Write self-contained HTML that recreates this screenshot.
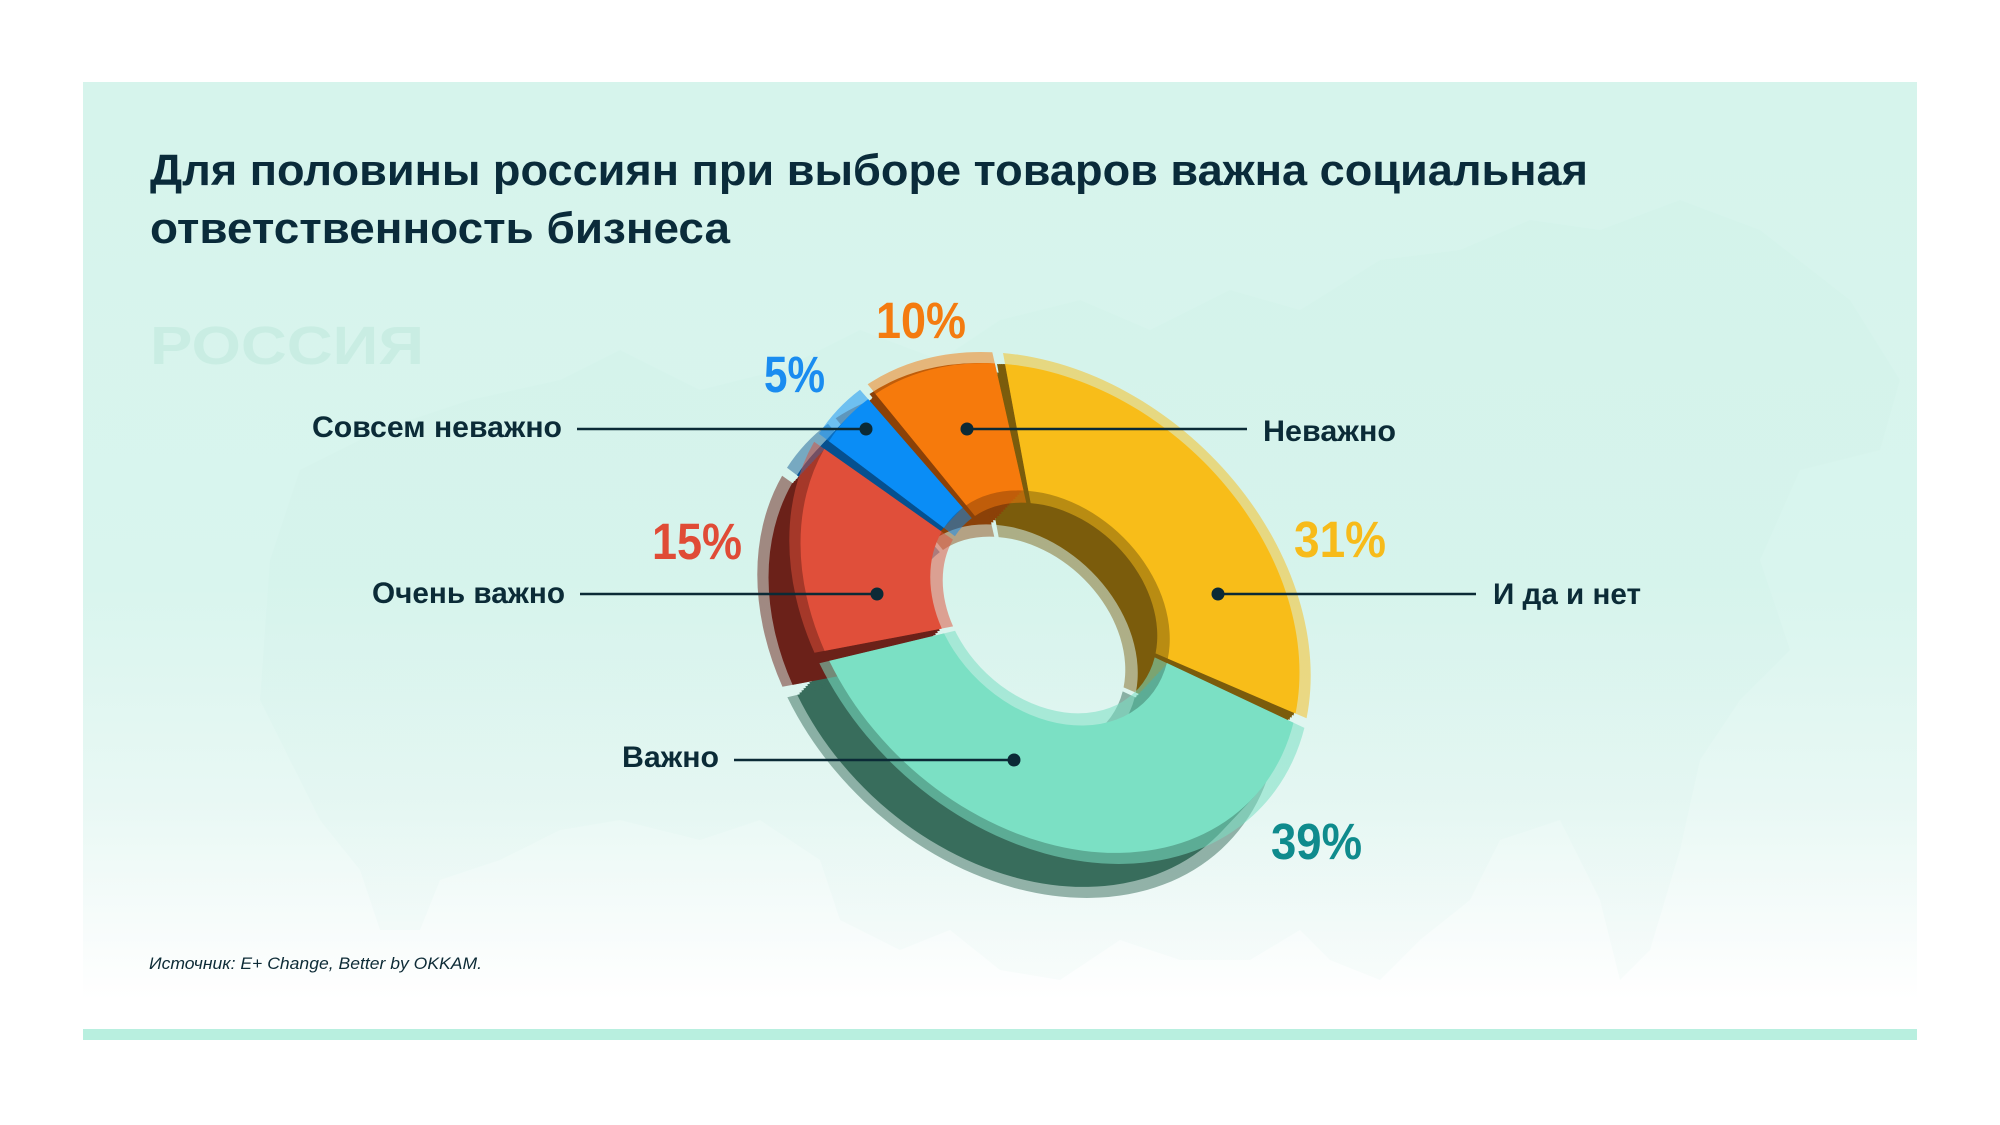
<!DOCTYPE html>
<html>
<head>
<meta charset="utf-8">
<style>
html,body{margin:0;padding:0;background:#ffffff;}
svg{display:block}
</style>
</head>
<body>
<svg width="2000" height="1125" viewBox="0 0 2000 1125" xmlns="http://www.w3.org/2000/svg" xmlns:xlink="http://www.w3.org/1999/xlink">
<defs>
  <linearGradient id="bg" gradientUnits="userSpaceOnUse" x1="0" y1="83" x2="0" y2="1000">
    <stop offset="0" stop-color="#d6f4ec"/>
    <stop offset="0.55" stop-color="#d9f5ee"/>
    <stop offset="0.78" stop-color="#e8f8f4"/>
    <stop offset="0.92" stop-color="#f7fcfb"/>
    <stop offset="1" stop-color="#ffffff"/>
  </linearGradient>
  <linearGradient id="mapg" gradientUnits="userSpaceOnUse" x1="0" y1="200" x2="0" y2="990">
    <stop offset="0" stop-color="#c9ede3"/>
    <stop offset="0.6" stop-color="#cdeee6"/>
    <stop offset="1" stop-color="#e2f4f0"/>
  </linearGradient>
  <path id="o" transform="translate(1050,608) rotate(43) scale(2.78,2.12)" d="M-98.42,-17.708 A100,100 0 0 1 -74.548,-66.653 L-35.783,-31.993 A48,48 0 0 0 -47.242,-8.5 Z"/>
  <path id="oR" transform="translate(1050,608) rotate(43) scale(2.78,2.12)" d="M-102.849,-18.505 A104.5,104.5 0 0 1 -77.903,-69.652 L-32.056,-28.661 A43,43 0 0 0 -42.321,-7.614 Z"/>
  <path id="y" transform="translate(1050,608) rotate(43) scale(2.78,2.12)" d="M-71.691,-69.717 A100,100 0 0 1 90.483,-42.578 L43.432,-20.437 A48,48 0 0 0 -34.412,-33.464 Z"/>
  <path id="yR" transform="translate(1050,608) rotate(43) scale(2.78,2.12)" d="M-74.917,-72.854 A104.5,104.5 0 0 1 94.555,-44.494 L38.908,-18.309 A43,43 0 0 0 -30.827,-29.978 Z"/>
  <path id="g" transform="translate(1050,608) rotate(43) scale(2.78,2.12)" d="M92.186,-38.752 A100,100 0 0 1 -45.088,89.259 L-21.642,42.844 A48,48 0 0 0 44.249,-18.601 Z"/>
  <path id="gR" transform="translate(1050,608) rotate(43) scale(2.78,2.12)" d="M96.334,-40.496 A104.5,104.5 0 0 1 -47.117,93.276 L-19.388,38.381 A43,43 0 0 0 39.64,-16.663 Z"/>
  <path id="r" transform="translate(1050,608) rotate(43) scale(2.78,2.12)" d="M-48.786,87.292 A100,100 0 0 1 -98.42,17.708 L-47.242,8.5 A48,48 0 0 0 -23.417,41.9 Z"/>
  <path id="rR" transform="translate(1050,608) rotate(43) scale(2.78,2.12)" d="M-50.981,91.22 A104.5,104.5 0 0 1 -102.849,18.505 L-42.321,7.614 A43,43 0 0 0 -20.978,37.536 Z"/>
  <path id="b" transform="translate(1050,608) rotate(43) scale(2.78,2.12)" d="M-99.075,13.572 A100,100 0 0 1 -99.075,-13.572 L-47.556,-6.515 A48,48 0 0 0 -47.556,6.515 Z"/>
  <path id="bR" transform="translate(1050,608) rotate(43) scale(2.78,2.12)" d="M-103.533,14.183 A104.5,104.5 0 0 1 -103.533,-14.183 L-42.602,-5.836 A43,43 0 0 0 -42.602,5.836 Z"/>
</defs>

<!-- background -->
<rect x="0" y="0" width="2000" height="1125" fill="#ffffff"/>
<rect x="83" y="82" width="1834" height="918" fill="url(#bg)"/>
<path d="M 270 560 L 300 470 L 380 430 L 470 400 L 560 380 L 620 350 L 700 390 L 780 370 L 860 330 L 940 360 L 1000 320 L 1080 300 L 1150 330 L 1230 290 L 1300 310 L 1380 260 L 1460 250 L 1530 220 L 1600 230 L 1680 200 L 1760 230 L 1850 300 L 1900 380 L 1880 450 L 1800 470 L 1760 560 L 1790 650 L 1740 700 L 1700 760 L 1680 850 L 1650 950 L 1620 980 L 1600 900 L 1560 820 L 1500 840 L 1470 900 L 1420 940 L 1380 980 L 1330 960 L 1300 930 L 1250 960 L 1180 960 L 1120 940 L 1060 980 L 1000 970 L 950 930 L 900 950 L 840 920 L 820 860 L 760 820 L 700 840 L 620 820 L 560 830 L 500 860 L 440 880 L 420 930 L 380 930 L 360 870 L 320 820 L 290 760 L 260 700 Z" fill="url(#mapg)" opacity="0.2"/>
<rect x="83" y="1029" width="1834" height="11" fill="#b8efdf"/>

<!-- watermark -->
<text x="150" y="364" font-family="Liberation Sans, sans-serif" font-weight="bold" font-size="54" fill="#c9ede3" textLength="274" lengthAdjust="spacingAndGlyphs">РОССИЯ</text>

<!-- title -->
<text x="150" y="185" font-family="Liberation Sans, sans-serif" font-weight="bold" font-size="44" fill="#0a2b3a" textLength="1438" lengthAdjust="spacingAndGlyphs">Для половины россиян при выборе товаров важна социальная</text>
<text x="150" y="243" font-family="Liberation Sans, sans-serif" font-weight="bold" font-size="44" fill="#0a2b3a" textLength="580" lengthAdjust="spacingAndGlyphs">ответственность бизнеса</text>

<!-- DONUT -->
<!-- wall rims (translucent) -->
<use href="#yR" x="-32" y="34" fill="#7b5c0c" opacity="0.45"/>
<use href="#oR" x="-32" y="34" fill="#8b4108" opacity="0.45"/>
<use href="#bR" x="-32" y="34" fill="#06508f" opacity="0.45"/>
<use href="#gR" x="-32" y="34" fill="#386d5c" opacity="0.5"/>
<use href="#rR" x="-32" y="34" fill="#6b2119" opacity="0.5"/>

<!-- wall sweeps -->
<g fill="#7b5c0c">
<use href="#y" x="-2" y="0"/><use href="#y" x="-4" y="0"/><use href="#y" x="-6" y="0"/><use href="#y" x="-8" y="0"/>
<use href="#y" x="-2" y="2.125"/><use href="#y" x="-4" y="4.25"/><use href="#y" x="-6" y="6.375"/><use href="#y" x="-8" y="8.5"/><use href="#y" x="-10" y="10.625"/><use href="#y" x="-12" y="12.75"/><use href="#y" x="-14" y="14.875"/><use href="#y" x="-16" y="17"/><use href="#y" x="-18" y="19.125"/><use href="#y" x="-20" y="21.25"/><use href="#y" x="-22" y="23.375"/><use href="#y" x="-24" y="25.5"/><use href="#y" x="-26" y="27.625"/><use href="#y" x="-28" y="29.75"/><use href="#y" x="-30" y="31.875"/><use href="#y" x="-32" y="34"/>
</g>
<g fill="#8b4108">
<use href="#o" x="-2" y="0"/><use href="#o" x="-4" y="0"/><use href="#o" x="-6" y="0"/>
<use href="#o" x="-2" y="2.125"/><use href="#o" x="-4" y="4.25"/><use href="#o" x="-6" y="6.375"/><use href="#o" x="-8" y="8.5"/><use href="#o" x="-10" y="10.625"/><use href="#o" x="-12" y="12.75"/><use href="#o" x="-14" y="14.875"/><use href="#o" x="-16" y="17"/><use href="#o" x="-18" y="19.125"/><use href="#o" x="-20" y="21.25"/><use href="#o" x="-22" y="23.375"/><use href="#o" x="-24" y="25.5"/><use href="#o" x="-26" y="27.625"/><use href="#o" x="-28" y="29.75"/><use href="#o" x="-30" y="31.875"/><use href="#o" x="-32" y="34"/>
</g>
<g fill="#06508f">
<use href="#b" x="-2" y="2.125"/><use href="#b" x="-4" y="4.25"/><use href="#b" x="-6" y="6.375"/><use href="#b" x="-8" y="8.5"/><use href="#b" x="-10" y="10.625"/><use href="#b" x="-12" y="12.75"/><use href="#b" x="-14" y="14.875"/><use href="#b" x="-16" y="17"/><use href="#b" x="-18" y="19.125"/><use href="#b" x="-20" y="21.25"/><use href="#b" x="-22" y="23.375"/><use href="#b" x="-24" y="25.5"/><use href="#b" x="-26" y="27.625"/><use href="#b" x="-28" y="29.75"/><use href="#b" x="-30" y="31.875"/><use href="#b" x="-32" y="34"/>
</g>
<g fill="#386d5c">
<use href="#g" x="-2" y="2.125"/><use href="#g" x="-4" y="4.25"/><use href="#g" x="-6" y="6.375"/><use href="#g" x="-8" y="8.5"/><use href="#g" x="-10" y="10.625"/><use href="#g" x="-12" y="12.75"/><use href="#g" x="-14" y="14.875"/><use href="#g" x="-16" y="17"/><use href="#g" x="-18" y="19.125"/><use href="#g" x="-20" y="21.25"/><use href="#g" x="-22" y="23.375"/><use href="#g" x="-24" y="25.5"/><use href="#g" x="-26" y="27.625"/><use href="#g" x="-28" y="29.75"/><use href="#g" x="-30" y="31.875"/><use href="#g" x="-32" y="34"/>
</g>
<g fill="#6b2119">
<use href="#r" x="-2" y="2.125"/><use href="#r" x="-4" y="4.25"/><use href="#r" x="-6" y="6.375"/><use href="#r" x="-8" y="8.5"/><use href="#r" x="-10" y="10.625"/><use href="#r" x="-12" y="12.75"/><use href="#r" x="-14" y="14.875"/><use href="#r" x="-16" y="17"/><use href="#r" x="-18" y="19.125"/><use href="#r" x="-20" y="21.25"/><use href="#r" x="-22" y="23.375"/><use href="#r" x="-24" y="25.5"/><use href="#r" x="-26" y="27.625"/><use href="#r" x="-28" y="29.75"/><use href="#r" x="-30" y="31.875"/><use href="#r" x="-32" y="34"/>
</g>

<!-- top rims (translucent) -->
<use href="#yR" fill="#f8bd19" opacity="0.5"/>
<use href="#oR" fill="#f67a0c" opacity="0.5"/>
<use href="#bR" fill="#0a8df6" opacity="0.5"/>
<use href="#gR" fill="#7be0c4" opacity="0.55"/>
<use href="#rR" fill="#e04f3a" opacity="0.5"/>

<!-- top faces -->
<use href="#y" fill="#f8bd19"/>
<use href="#o" fill="#f67a0c"/>
<use href="#b" fill="#0a8df6"/>
<use href="#g" fill="#7be0c4"/>
<use href="#r" fill="#e04f3a"/>

<!-- leader lines -->
<g stroke="#0b2a36" stroke-width="2.5" fill="none">
  <line x1="577" y1="429" x2="866" y2="429"/>
  <line x1="967" y1="429" x2="1247" y2="429"/>
  <line x1="580" y1="594" x2="877" y2="594"/>
  <line x1="1218" y1="594" x2="1476" y2="594"/>
  <line x1="734" y1="760" x2="1014" y2="760"/>
</g>
<g fill="#0b2a36">
  <circle cx="866" cy="429" r="6.5"/>
  <circle cx="967" cy="429" r="6.5"/>
  <circle cx="877" cy="594" r="6.5"/>
  <circle cx="1218" cy="594" r="6.5"/>
  <circle cx="1014" cy="760" r="6.5"/>
</g>

<!-- category labels -->
<g font-family="Liberation Sans, sans-serif" font-weight="bold" font-size="30" fill="#0b2b37">
  <text x="312" y="437" textLength="250" lengthAdjust="spacingAndGlyphs">Совсем неважно</text>
  <text x="1263" y="441" textLength="133" lengthAdjust="spacingAndGlyphs">Неважно</text>
  <text x="372" y="603" textLength="193" lengthAdjust="spacingAndGlyphs">Очень важно</text>
  <text x="1493" y="604" textLength="148" lengthAdjust="spacingAndGlyphs">И да и нет</text>
  <text x="622" y="767" textLength="97" lengthAdjust="spacingAndGlyphs">Важно</text>
</g>

<!-- percentages -->
<g font-family="Liberation Sans, sans-serif" font-weight="bold" font-size="51">
  <text x="876" y="338" fill="#f47b10" textLength="90" lengthAdjust="spacingAndGlyphs">10%</text>
  <text x="764" y="392" fill="#1a8cf0" textLength="61" lengthAdjust="spacingAndGlyphs">5%</text>
  <text x="652" y="559" fill="#e04b36" textLength="90" lengthAdjust="spacingAndGlyphs">15%</text>
  <text x="1294" y="557" fill="#f7bb1a" textLength="92" lengthAdjust="spacingAndGlyphs">31%</text>
  <text x="1271" y="859" fill="#0f8b8d" textLength="91" lengthAdjust="spacingAndGlyphs">39%</text>
</g>

<!-- source -->
<text x="149" y="969" font-family="Liberation Sans, sans-serif" font-style="italic" font-size="17" fill="#0d2b36" textLength="333" lengthAdjust="spacingAndGlyphs">Источник: E+ Change, Better by OKKAM.</text>
</svg>
</body>
</html>
